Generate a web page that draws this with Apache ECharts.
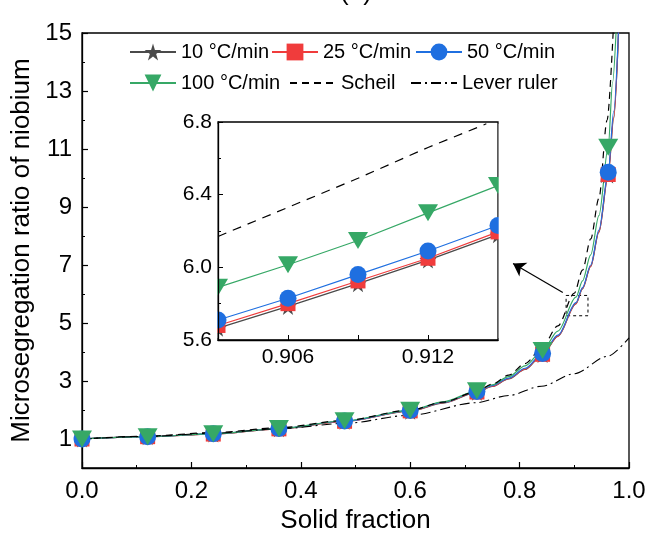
<!DOCTYPE html>
<html><head><meta charset="utf-8">
<script src="https://cdn.jsdelivr.net/npm/echarts@6/dist/echarts.min.js"></script>
<style>html,body{margin:0;padding:0;background:#fff}#c{width:659px;height:539px}</style>
</head><body><div id="c"></div>
<script>
const FONT = "'Liberation Sans', Arial, sans-serif";
// ---------- data ----------
const markerFs = [0, 0.12, 0.24, 0.36, 0.48, 0.6, 0.722, 0.842, 0.962];
const fsRate = [0, 0.12, 0.24, 0.36, 0.48, 0.6, 0.66, 0.722, 0.75, 0.78, 0.81, 0.842, 0.87, 0.903, 0.915, 0.93, 0.945, 0.962, 0.972, 0.981];
const rate10 = [1.0, 1.08, 1.17, 1.35, 1.61, 1.96, 2.24, 2.61, 2.81, 3.07, 3.40, 3.91, 4.54, 5.66, 6.18, 6.95, 8.13, 10.10, 12.05, 15.05];
const rate25 = [1.0, 1.08, 1.17, 1.35, 1.61, 1.97, 2.25, 2.62, 2.82, 3.08, 3.41, 3.92, 4.55, 5.67, 6.19, 6.96, 8.15, 10.12, 12.10, 15.10];
const rate50 = [1.0, 1.08, 1.18, 1.36, 1.62, 1.98, 2.26, 2.64, 2.84, 3.10, 3.44, 3.95, 4.58, 5.70, 6.22, 7.00, 8.20, 10.20, 12.30, 15.20];
const fsRate100 = [0, 0.12, 0.24, 0.36, 0.48, 0.6, 0.66, 0.722, 0.75, 0.78, 0.81, 0.842, 0.87, 0.903, 0.915, 0.93, 0.945, 0.962, 0.970, 0.977];
const rate100 = [1.0, 1.08, 1.18, 1.36, 1.63, 1.99, 2.28, 2.66, 2.87, 3.15, 3.52, 4.05, 4.72, 5.89, 6.45, 7.35, 8.70, 11.06, 13.30, 15.30];
const fsScheil = [0, 0.12, 0.24, 0.36, 0.48, 0.6, 0.66, 0.72, 0.75, 0.78, 0.81, 0.84, 0.87, 0.9, 0.915, 0.93, 0.945, 0.96, 0.972];
const scheil = [1.0, 1.10, 1.22, 1.39, 1.64, 2.00, 2.27, 2.62, 2.89, 3.20, 3.60, 4.12, 4.90, 6.03, 6.82, 7.90, 9.30, 12.00, 15.40];
const fsLever = [0, 0.12, 0.24, 0.36, 0.48, 0.6, 0.72, 0.78, 0.84, 0.9, 0.96, 1.0];
const lever = [1.0, 1.09, 1.20, 1.35, 1.54, 1.82, 2.25, 2.50, 2.82, 3.25, 3.85, 4.49];

// inset (zoomed region)
const insetRange = { xMin: 0.903, xMax: 0.915, yMin: 5.6, yMax: 6.8 };
const insetFs = [0.903, 0.906, 0.909, 0.912, 0.915];
const inset10 = [5.665, 5.785, 5.91, 6.04, 6.18];
const inset25 = [5.68, 5.80, 5.925, 6.05, 6.195];
const inset50 = [5.71, 5.83, 5.96, 6.09, 6.23];
const inset100 = [5.89, 6.014, 6.148, 6.30, 6.45];
const insetScheilFs = [0.903, 0.906, 0.909, 0.912, 0.9145];
const insetScheil = [6.17, 6.33, 6.49, 6.66, 6.79];

// tick labels
const yTickLabels = [1, 3, 5, 7, 9, 11, 13, 15];
const yMinorTicks = [0, 2, 4, 6, 8, 10, 12, 14];
const insetXLabels = [0.906, 0.912];
const insetXTicks = [0.906, 0.909, 0.912];

// annotations (data coordinates)
const zoomBox = [[0.885, 5.95], [0.925, 5.25]];
const arrowLine = [[0.879, 6.05], [0.788, 7.05]];

const names = ['10 °C/min', '25 °C/min', '50 °C/min', '100 °C/min', 'Scheil', 'Lever ruler'];
const colors = ['#4a4a4a', '#f03c3c', '#1f6fe0', '#36a866'];
const STAR = 'path://M50,0 L61,35 L98,35 L68,57 L79,91 L50,70 L21,91 L32,57 L2,35 L39,35 Z';
const TRI_DOWN = 'path://M0,0 L100,0 L50,87 Z';
const symbols = [STAR, 'rect', 'circle', TRI_DOWN];
const symSizes = [17, 15, 17, [20, 17]];

function pairs(xs, ys, withMarkers) {
  return xs.map((x, i) => {
    if (!withMarkers || markerFs.indexOf(x) >= 0) return { value: [x, ys[i]] };
    return { value: [x, ys[i]], symbol: 'none' };
  });
}

const rateX = [fsRate, fsRate, fsRate, fsRate100];
const rateY = [rate10, rate25, rate50, rate100];
const insetY = [inset10, inset25, inset50, inset100];

const series = [];
for (let k = 0; k < 4; k++) {
  series.push({
    name: names[k], type: 'line', xAxisIndex: 0, yAxisIndex: 0,
    data: pairs(rateX[k], rateY[k], true),
    symbol: symbols[k], symbolSize: symSizes[k], showAllSymbol: true,
    smooth: 0.3, smoothMonotone: 'x',
    lineStyle: { color: colors[k], width: 1.2 },
    itemStyle: { color: colors[k] },
    z: 2, animation: false
  });
}
series.push({
  name: 'Scheil', type: 'line', xAxisIndex: 0, yAxisIndex: 0,
  data: pairs(fsScheil, scheil, false), symbol: 'circle', showSymbol: false, smooth: 0.3, smoothMonotone: 'x',
  lineStyle: { color: '#000', width: 1.2, type: [7, 5] },
  itemStyle: { color: 'rgba(0,0,0,0)' }, z: 2, animation: false,
  markArea: {
    silent: true,
    itemStyle: { color: 'rgba(0,0,0,0)', borderColor: '#000', borderWidth: 1, borderType: [3, 3] },
    data: [[{ coord: zoomBox[0] }, { coord: zoomBox[1] }]]
  },
  markLine: {
    silent: true, symbol: ['none', 'arrow'], symbolSize: 12,
    lineStyle: { color: '#000', width: 1.2, type: 'solid' },
    label: { show: false },
    data: [[{ coord: arrowLine[0] }, { coord: arrowLine[1] }]]
  }
});
series.push({
  name: 'Lever ruler', type: 'line', xAxisIndex: 0, yAxisIndex: 0,
  data: pairs(fsLever, lever, false), symbol: 'circle', showSymbol: false, smooth: 0.3, smoothMonotone: 'x',
  lineStyle: { color: '#000', width: 1.1, type: [10, 4, 2, 4] },
  itemStyle: { color: 'rgba(0,0,0,0)' }, z: 2, animation: false
});
// inset series
for (let k = 0; k < 4; k++) {
  series.push({
    name: names[k] + ' (inset)', type: 'line', xAxisIndex: 1, yAxisIndex: 2,
    data: pairs(insetFs, insetY[k], false),
    symbol: symbols[k], symbolSize: symSizes[k], showAllSymbol: true,
    lineStyle: { color: colors[k], width: 1.2 }, itemStyle: { color: colors[k] },
    z: 5, animation: false
  });
}
series.push({
  name: 'Scheil (inset)', type: 'line', xAxisIndex: 1, yAxisIndex: 2,
  data: pairs(insetScheilFs, insetScheil, false), symbol: 'none',
  lineStyle: { color: '#000', width: 1.2, type: [9, 7] }, z: 5, animation: false
});

const legendPos = [[129, 42], [271, 42], [415, 42], [129, 73], [289, 73], [410, 73]];
const legends = names.map((n, i) => ({
  data: [n], left: legendPos[i][0], top: legendPos[i][1], orient: 'horizontal',
  itemWidth: 46, itemHeight: 21, itemGap: 0, selectedMode: false, padding: 0,
  textStyle: { fontSize: 20, color: '#000', fontFamily: FONT }
}));

const axisTick = { fontSize: 24, color: '#000', fontFamily: FONT };
const axisName = { fontSize: 26, color: '#000', fontFamily: FONT };
const insetTxt = { fontSize: 21, color: '#000', fontFamily: FONT };
const option = {
  backgroundColor: '#fff',
  animation: false,
  textStyle: { fontFamily: FONT },
  legend: legends,
  graphic: [{ id: 'title', type: 'text', x: 356, y: 6, style: { text: '(a)', font: '26px ' + FONT, fill: '#000', align: 'center', verticalAlign: 'bottom' } }],
  grid: [
    { left: 82, right: 30, top: 33, bottom: 71, show: true, borderColor: '#000', borderWidth: 1.3, backgroundColor: 'rgba(0,0,0,0)', z: 0 },
    { left: 218, top: 122, width: 280, height: 218, show: true, borderColor: '#000', borderWidth: 1.3, backgroundColor: '#fff', z: 4 }
  ],
  xAxis: [
    {
      type: 'value', gridIndex: 0, min: 0, max: 1, interval: 0.2,
      name: 'Solid fraction', nameLocation: 'middle', nameGap: 39, nameTextStyle: axisName,
      axisLine: { lineStyle: { color: '#000', width: 1.3 } },
      axisTick: { inside: true, length: 6, lineStyle: { color: '#000', width: 1.2 } },
      minorTick: { show: true, splitNumber: 2, length: 3, lineStyle: { color: '#000', width: 1 } },
      axisLabel: { ...axisTick, margin: 11, formatter: v => v.toFixed(1) },
      splitLine: { show: false }
    },
    {
      type: 'value', gridIndex: 1, min: insetRange.xMin, max: insetRange.xMax, interval: 0.003, z: 7,
      axisLine: { lineStyle: { color: '#000', width: 1.3 } },
      axisTick: { inside: true, length: 5, customValues: insetXTicks, lineStyle: { color: '#000', width: 1 } },
      axisLabel: { ...insetTxt, margin: 7, customValues: insetXLabels, formatter: v => v.toFixed(3) },
      splitLine: { show: false }
    }
  ],
  yAxis: [
    {
      type: 'value', gridIndex: 0, min: 0, max: 15,
      name: 'Microsegregation ratio of niobium', nameLocation: 'middle', nameGap: 39, nameTextStyle: axisName,
      axisLine: { lineStyle: { color: '#000', width: 1.3 } },
      axisTick: { inside: true, length: 6, customValues: yTickLabels, lineStyle: { color: '#000', width: 1.2 } },
      axisLabel: { ...axisTick, margin: 10, customValues: yTickLabels },
      splitLine: { show: false }
    },
    {
      type: 'value', gridIndex: 0, min: 0, max: 15, position: 'left',
      axisLine: { show: false },
      axisTick: { inside: true, length: 3, customValues: yMinorTicks, lineStyle: { color: '#000', width: 1 } },
      axisLabel: { show: false }, splitLine: { show: false }
    },
    {
      type: 'value', gridIndex: 1, min: insetRange.yMin, max: insetRange.yMax, interval: 0.4, z: 7,
      axisLine: { lineStyle: { color: '#000', width: 1.3 } },
      axisTick: { inside: true, length: 5, lineStyle: { color: '#000', width: 1 } },
      minorTick: { show: true, splitNumber: 2, length: 3, lineStyle: { color: '#000', width: 1 } },
      axisLabel: { ...insetTxt, margin: 6, formatter: v => v.toFixed(1) },
      splitLine: { show: false }
    }
  ],
  series: series
};
const chart = echarts.init(document.getElementById('c'), null, { renderer: 'canvas' });
chart.setOption(option);

// clip inset markers at the inset frame (white strips just outside the left/right frame)
const tl = chart.convertToPixel({ gridIndex: 1 }, [insetRange.xMin, insetRange.yMax]);
const br = chart.convertToPixel({ gridIndex: 1 }, [insetRange.xMax, insetRange.yMin]);
const strip = 12;
chart.setOption({
  graphic: [
    { id: 'maskL', type: 'rect', z: 6, silent: true, shape: { x: tl[0] - strip - 0.7, y: tl[1] + 2, width: strip, height: br[1] - tl[1] - 4 }, style: { fill: '#fff' } },
    { id: 'maskR', type: 'rect', z: 6, silent: true, shape: { x: br[0] + 0.7, y: tl[1] + 2, width: strip, height: br[1] - tl[1] - 4 }, style: { fill: '#fff' } }
  ]
});
</script></body></html>
